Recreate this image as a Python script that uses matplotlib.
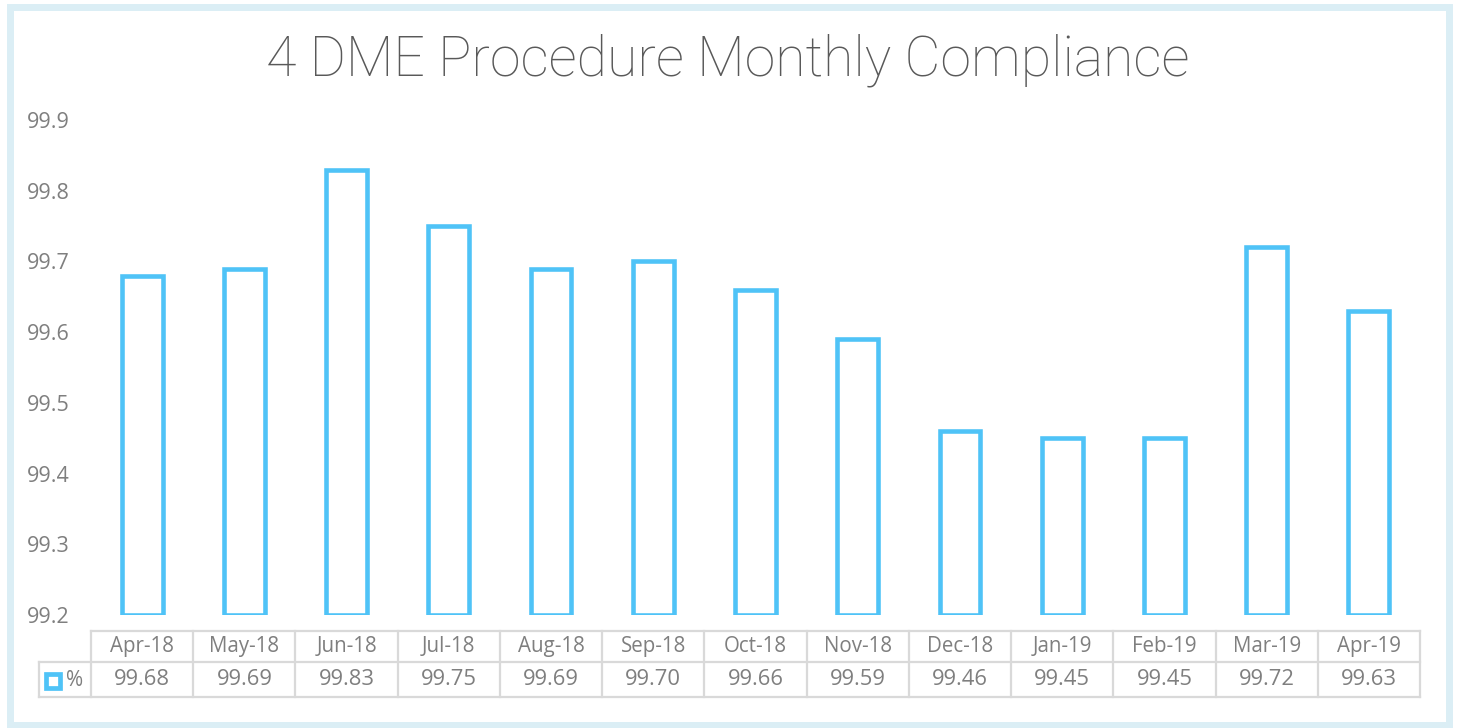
import matplotlib
matplotlib.use("Agg")
import matplotlib.pyplot as plt
from matplotlib.patches import Rectangle

months = ["Apr-18", "May-18", "Jun-18", "Jul-18", "Aug-18", "Sep-18", "Oct-18",
          "Nov-18", "Dec-18", "Jan-19", "Feb-19", "Mar-19", "Apr-19"]
values = [99.68, 99.69, 99.83, 99.75, 99.69, 99.70, 99.66,
          99.59, 99.46, 99.45, 99.45, 99.72, 99.63]
yticks = [99.2, 99.3, 99.4, 99.5, 99.6, 99.7, 99.8, 99.9]
series_name = "%"
title = "4 DME Procedure Monthly Compliance"

W, H = 1460, 728
fig = plt.figure(figsize=(W / 100, H / 100), dpi=100)
fig.patch.set_facecolor("white")

BLUE = "#4fc3f7"
GRID = "#d9d9d9"
TXT = "#7f7f7f"

def px(x0, y0, x1, y1):
    return [x0 / W, 1 - y1 / H, (x1 - x0) / W, (y1 - y0) / H]

# frame
fig.patches.append(Rectangle((9.5 / W, 1 - 725 / H), (1449 - 9.5) / W, (725 - 6.5) / H,
                             transform=fig.transFigure, fill=False,
                             edgecolor="#dbeef5", linewidth=5, zorder=0))

fig.text(728 / W, 1 - 60 / H, title, ha="center", va="center",
         fontsize=40, color="#595959", family="Roboto", fontweight="light")

ax = fig.add_axes(px(91, 120, 1420, 615))
n = len(months)
xs = list(range(n))
ax.bar(xs, [v - yticks[0] for v in values], bottom=yticks[0], width=0.4,
       facecolor="white", edgecolor=BLUE, linewidth=3.3, zorder=3)
ax.set_xlim(-0.5, n - 0.5)
ax.set_ylim(yticks[0], yticks[-1])
for s in ax.spines.values():
    s.set_visible(False)
ax.set_xticks([])
ax.set_yticks(yticks)
ax.set_yticklabels([f"{t:.1f}" for t in yticks], fontsize=15.5, color=TXT,
                   family="Open Sans")
ax.tick_params(axis="y", length=0, pad=0)
for lab in ax.get_yticklabels():
    lab.set_horizontalalignment("left")
    lab.set_x(-64 / (1420 - 91))

# data table
tax = fig.add_axes(px(91, 631, 1420, 697))
tax.set_xlim(-0.5, n - 0.5)
tax.set_ylim(0, 2)
tax.axis("off")
leg_left = -0.5 - 52 / ((1420 - 91) / n)
lw = 1.6
kw = dict(color=GRID, linewidth=lw, clip_on=False, solid_capstyle="projecting")
tax.plot([-0.5, n - 0.5], [2, 2], **kw)
tax.plot([leg_left, n - 0.5], [1.06, 1.06], **kw)
tax.plot([leg_left, n - 0.5], [0, 0], **kw)
for i in range(n + 1):
    tax.plot([i - 0.5, i - 0.5], [0, 2], **kw)
tax.plot([leg_left, leg_left], [0, 1.06], **kw)
for i, (m, v) in enumerate(zip(months, values)):
    tax.text(i, 1.53, m, ha="center", va="center", fontsize=14.8, color=TXT,
             family="Open Sans")
    tax.text(i, 0.53, f"{v:.2f}", ha="center", va="center", fontsize=15.8, color=TXT,
             family="Open Sans")
# legend key
fig.patches.append(Rectangle((46 / W, 1 - 688 / H), 14 / W, 14 / H,
                             transform=fig.transFigure, facecolor="white",
                             edgecolor=BLUE, linewidth=3.4))
fig.text(66 / W, 1 - 680 / H, series_name, ha="left", va="center", fontsize=15,
         color=TXT, family="Open Sans")

fig.savefig("out.png", dpi=100, facecolor="white")
